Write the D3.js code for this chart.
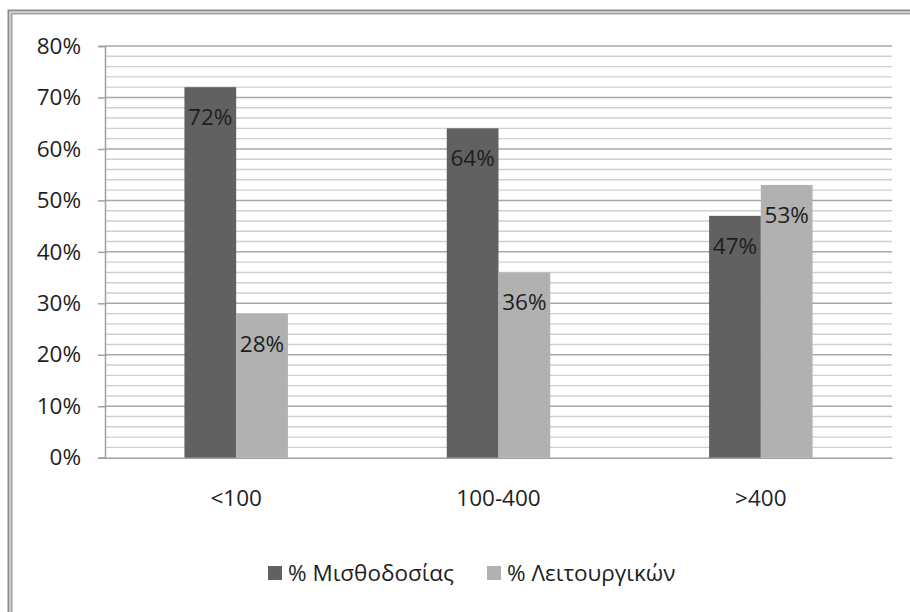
<!DOCTYPE html>
<html>
<head>
<meta charset="utf-8">
<script src="https://cdn.jsdelivr.net/npm/d3@7"></script>
<style>
  html, body { margin: 0; padding: 0; background: #ffffff; }
  svg { display: block; }
  text { font-family: "Open Sans", "Noto Sans", sans-serif; fill: #1e1e1e; }
</style>
</head>
<body>
<svg id="chart" width="910" height="612"></svg>
<script>
// Share of budget by organisation size
const categories = ["<100", "100-400", ">400"];
const seriesNames = ["% Μισθοδοσίας", "% Λειτουργικών"];
const payroll = [72, 64, 47];
const operating = [28, 36, 53];
const yTicks = [0, 10, 20, 30, 40, 50, 60, 70, 80];
const seriesColors = ["#616161", "#b1b1b1"];

const svg = d3.select("#chart");
const W = 910, H = 612;
const plot = { left: 105, right: 892, top: 46, bottom: 457.7 };
const FONT = '"Open Sans", "Noto Sans", sans-serif';

// Frame around the chart area
svg.append("rect").attr("x", 0).attr("y", 0).attr("width", W).attr("height", H).attr("fill", "#fff");
svg.append("rect").attr("x", 8.5).attr("y", 10.5).attr("width", 1000).attr("height", 1000)
  .attr("fill", "none").attr("stroke", "#8c8c8c").attr("stroke-width", 2);
svg.append("rect").attr("x", 11.5).attr("y", 13.5).attr("width", 1000).attr("height", 1000)
  .attr("fill", "none").attr("stroke", "#a2a2a2").attr("stroke-width", 2);

const x = d3.scaleBand().domain(categories).range([plot.left, plot.right]);
const xInner = d3.scaleBand().domain(seriesNames).range([0, x.bandwidth()]).paddingInner(0).paddingOuter(1.535);
const y = d3.scaleLinear().domain([0, 80]).range([plot.bottom, plot.top]);

// Minor gridlines every 2%
const minor = d3.range(0, 81, 2).filter(v => v % 10 !== 0);
svg.append("g").selectAll("line").data(minor).join("line")
  .attr("x1", plot.left).attr("x2", plot.right)
  .attr("y1", d => y(d)).attr("y2", d => y(d))
  .attr("stroke", "#cfcfcf").attr("stroke-width", 1.4);

// Major gridlines every 10%
svg.append("g").selectAll("line").data(yTicks.filter(v => v > 0)).join("line")
  .attr("x1", plot.left).attr("x2", plot.right)
  .attr("y1", d => y(d)).attr("y2", d => y(d))
  .attr("stroke", "#a8a8a8").attr("stroke-width", 1.5);

// Y axis
const yAxis = d3.axisLeft(y).tickValues(yTicks).tickFormat(d => d + "%").tickSize(7).tickPadding(17);
const gy = svg.append("g").attr("transform", `translate(${plot.left},0)`).call(yAxis);
gy.select(".domain").attr("stroke", "#a0a0a0").attr("stroke-width", 1.5);
gy.selectAll(".tick line").attr("stroke", "#a0a0a0").attr("stroke-width", 1.5);
gy.selectAll(".tick text").attr("font-size", 22.5).attr("fill", "#1e1e1e").attr("font-family", FONT);

// X axis
const xAxis = d3.axisBottom(x).tickSize(0).tickPadding(32);
const gx = svg.append("g").attr("transform", `translate(0,${plot.bottom})`).call(xAxis);
gx.select(".domain").attr("stroke", "#a0a0a0").attr("stroke-width", 1.5);
gx.selectAll(".tick text").attr("font-size", 22.5).attr("fill", "#1e1e1e").attr("font-family", FONT);

// Bars
const rows = categories.map((c, i) => ({ cat: c, vals: [payroll[i], operating[i]] }));
const groups = svg.append("g").selectAll("g").data(rows).join("g")
  .attr("transform", d => `translate(${x(d.cat)},0)`);

groups.selectAll("rect").data(d => d.vals.map((v, j) => ({ v, s: seriesNames[j], j }))).join("rect")
  .attr("x", d => xInner(d.s))
  .attr("width", xInner.bandwidth())
  .attr("y", d => y(d.v))
  .attr("height", d => y(0) - y(d.v))
  .attr("fill", d => seriesColors[d.j]);

groups.selectAll("text").data(d => d.vals.map((v, j) => ({ v, s: seriesNames[j], j }))).join("text")
  .attr("x", d => xInner(d.s) + xInner.bandwidth() / 2)
  .attr("y", d => y(d.v) + 38)
  .attr("text-anchor", "middle")
  .attr("font-size", 22.5)
  .text(d => d.v + "%");

// Legend
const legendItems = [
  { name: seriesNames[0], color: seriesColors[0], x: 268 },
  { name: seriesNames[1], color: seriesColors[1], x: 487 }
];
const lg = svg.append("g").selectAll("g").data(legendItems).join("g")
  .attr("transform", d => `translate(${d.x},566)`);
lg.append("rect").attr("width", 14).attr("height", 14).attr("fill", d => d.color);
lg.append("text").attr("x", 20).attr("y", 15).attr("font-size", 22.5).text(d => d.name);
</script>
</body>
</html>
